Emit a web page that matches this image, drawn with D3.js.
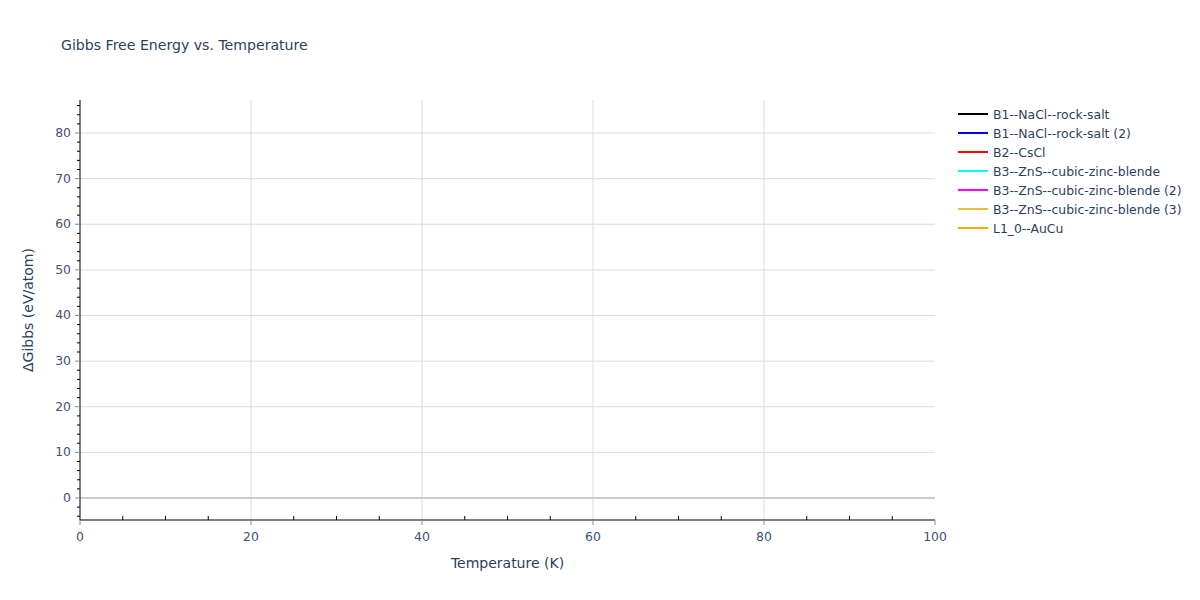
<!DOCTYPE html>
<html>
<head>
<meta charset="utf-8">
<script src="https://cdn.jsdelivr.net/npm/d3@7"></script>
<style>
  body { margin: 0; background: #fff; }
  text { font-family: "DejaVu Sans", Verdana, Arial, sans-serif; }
</style>
</head>
<body>
<svg id="chart" width="1200" height="600"></svg>
<script>
// series names and colours, in legend order
const seriesNames = ['B1--NaCl--rock-salt', 'B1--NaCl--rock-salt (2)', 'B2--CsCl',
    'B3--ZnS--cubic-zinc-blende', 'B3--ZnS--cubic-zinc-blende (2)',
    'B3--ZnS--cubic-zinc-blende (3)', 'L1_0--AuCu']
const seriesColors = ['black', 'blue', 'red', 'cyan', 'magenta', '#eebd3a', 'orange']

// no visible trace in the picture: each series has no plotted points
const temperature = []
const seriesValues = [[], [], [], [], [], [], []]

const xTicks = [0, 20, 40, 60, 80, 100]
const yTicks = [0, 10, 20, 30, 40, 50, 60, 70, 80]
const xDomain = [0, 100]
const yDomain = [-4.82, 87.23]

let svg = d3.select('#chart')
let margin = {left: 80, right: 265, top: 100, bottom: 80},
    width = 1200 - margin.left - margin.right,
    height = 600 - margin.top - margin.bottom

let x = d3.scaleLinear().domain(xDomain).range([0, width])
let y = d3.scaleLinear().domain(yDomain).range([height, 0])

let g = svg.append('g').attr('transform', 'translate(' + margin.left + ',' + margin.top + ')')

// grid
g.selectAll('.xgrid').data(xTicks.filter(d => d > 0 && d < 100)).enter().append('line')
    .attr('x1', d => x(d)).attr('x2', d => x(d)).attr('y1', 0).attr('y2', height)
    .style('stroke', '#dcdcdc')
g.selectAll('.ygrid').data(yTicks.filter(d => d != 0)).enter().append('line')
    .attr('x1', 0).attr('x2', width).attr('y1', d => y(d)).attr('y2', d => y(d))
    .style('stroke', '#dcdcdc')
g.append('line')
    .attr('x1', 0).attr('x2', width).attr('y1', y(0)).attr('y2', y(0))
    .style('stroke', '#cccccc').style('stroke-width', 2)

// traces
let line = d3.line().x((d, i) => x(temperature[i])).y(d => y(d))
seriesValues.forEach((vals, i) => {
    g.append('path').datum(vals)
        .attr('d', line)
        .style('fill', 'none')
        .style('stroke', seriesColors[i])
        .style('stroke-width', 2)
})

// x axis
let xMinor = d3.range(5, 100, 5).filter(d => d % 20 != 0)
let xAxis = g.append('g').attr('transform', 'translate(0,' + height + ')')
xAxis.append('line').attr('x1', 0).attr('x2', width).style('stroke', 'black')
xAxis.selectAll('.minor').data(xMinor).enter().append('line')
    .attr('x1', d => x(d)).attr('x2', d => x(d)).attr('y1', 0).attr('y2', -4)
    .style('stroke', 'black')
xAxis.selectAll('.major').data(xTicks).enter().append('line')
    .attr('x1', d => x(d)).attr('x2', d => x(d)).attr('y1', 0).attr('y2', 5)
    .style('stroke', '#8a8a8a')
xAxis.selectAll('.lbl').data(xTicks).enter().append('text')
    .attr('x', d => x(d)).attr('y', 21)
    .attr('text-anchor', 'middle')
    .style('font-size', '12.4px').style('fill', '#3d5275')
    .text(d => d)

// y axis
let yMinor = d3.range(-4, 88, 2).filter(d => d % 10 != 0)
let yAxis = g.append('g')
yAxis.append('line').attr('y1', 0).attr('y2', height).style('stroke', 'black')
yAxis.selectAll('.minor').data(yMinor).enter().append('line')
    .attr('x1', -3).attr('x2', 0).attr('y1', d => y(d)).attr('y2', d => y(d))
    .style('stroke', 'black')
yAxis.selectAll('.major').data(yTicks).enter().append('line')
    .attr('x1', -5).attr('x2', 0).attr('y1', d => y(d)).attr('y2', d => y(d))
    .style('stroke', '#8a8a8a')
yAxis.selectAll('.lbl').data(yTicks).enter().append('text')
    .attr('x', -9).attr('y', d => y(d) + 4)
    .attr('text-anchor', 'end')
    .style('font-size', '12.4px').style('fill', '#3d5275')
    .text(d => d)

// titles
svg.append('text').attr('x', 61).attr('y', 50)
    .style('font-size', '14.1px').style('fill', '#2a3f5f')
    .text('Gibbs Free Energy vs. Temperature')
svg.append('text').attr('x', margin.left + width / 2).attr('y', 568)
    .attr('text-anchor', 'middle')
    .style('font-size', '14px').style('fill', '#2a3f5f')
    .text('Temperature (K)')
svg.append('text')
    .attr('transform', 'translate(33,' + (margin.top + height / 2) + ') rotate(-90)')
    .attr('text-anchor', 'middle')
    .style('font-size', '14px').style('fill', '#2a3f5f')
    .text('ΔGibbs (eV/atom)')

// legend
let legend = svg.append('g').attr('transform', 'translate(958,114)')
seriesNames.forEach((name, i) => {
    let row = legend.append('g').attr('transform', 'translate(0,' + (i * 19) + ')')
    row.append('line').attr('x1', 0).attr('x2', 30)
        .style('stroke', seriesColors[i]).style('stroke-width', 2)
    row.append('text').attr('x', 35).attr('y', 4.5)
        .style('font-size', '12.4px').style('fill', '#2a3f5f')
        .text(name)
})
</script>
</body>
</html>
